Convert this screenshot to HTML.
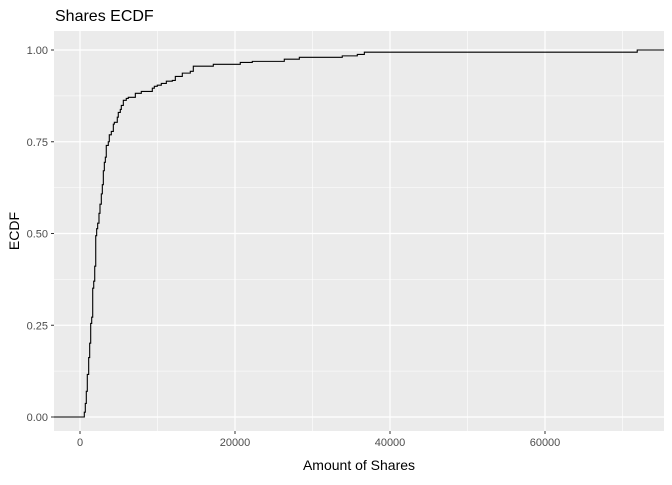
<!DOCTYPE html>
<html><head><meta charset="utf-8"><style>
body{margin:0;background:#fff;font-family:"Liberation Sans",sans-serif}
</style></head><body>
<svg id="chart" width="672" height="480" xmlns="http://www.w3.org/2000/svg" font-family="Liberation Sans, sans-serif">
<rect width="672" height="480" fill="#fff"/>
<text x="55" y="21" font-size="16" fill="#000">Shares ECDF</text>
<rect x="54" y="31" width="610" height="400" fill="#ebebeb"/>
<g id="grid"></g>
<g id="ticks"></g>
<path id="line" fill="none" stroke="#000" stroke-width="1.1"/>
<text x="359" y="470" font-size="14" text-anchor="middle" fill="#000">Amount of Shares</text>
<text transform="translate(19,231) rotate(-90)" font-size="14" text-anchor="middle" fill="#000">ECDF</text>
</svg>
<script>
const shares=[555,684,813,942,1120,1250,1380,1510,1640,1770,1900,2030,2150,2280,2450,2580,2750,2880,3010,3140,3270,3390,3650,3780,4040,4300,4430,4810,4940,5200,5330,5590,5970,6230,7140,7910,9330,9590,9970,10490,11140,11910,12300,13200,14230,14620,17200,20680,22230,26360,28300,33840,35780,36690,71900];
const ecdf=[.013,.037,.070,.116,.162,.201,.255,.272,.351,.370,.411,.494,.513,.528,.555,.580,.608,.633,.671,.694,.708,.740,.750,.769,.778,.798,.803,.817,.830,.838,.849,.863,.868,.871,.882,.887,.896,.901,.904,.909,.915,.917,.928,.937,.942,.956,.961,.966,.969,.975,.980,.984,.988,.994,1.0];
const xTicks=[0,20000,40000,60000];
const xMinor=[10000,30000,50000,70000];
const yTicks=[0,0.25,0.5,0.75,1];
const yTickLabels=["0.00","0.25","0.50","0.75","1.00"];
const yMinor=[0.125,0.375,0.625,0.875];
const X=v=>80+v*155/20000, Y=e=>417-e*367;
const NS="http://www.w3.org/2000/svg";
const grid=document.getElementById('grid'), ticks=document.getElementById('ticks');
function ln(p,x1,y1,x2,y2,c,w,name){const l=document.createElementNS(NS,'line');
l.setAttribute('x1',x1);l.setAttribute('y1',y1);l.setAttribute('x2',x2);l.setAttribute('y2',y2);
l.setAttribute('stroke',c);l.setAttribute('stroke-width',w);


p.appendChild(l);}
function tx(x,y,s,anchor,name){const t=document.createElementNS(NS,'text');
t.setAttribute('x',x);t.setAttribute('y',y);t.setAttribute('font-size','11');t.setAttribute('fill','#4d4d4d');t.setAttribute('text-anchor',anchor);t.textContent=s;


ticks.appendChild(t);}
xMinor.forEach(v=>ln(grid,X(v),31,X(v),431,'#fff',0.6,'x-minor-gridline'));
yMinor.forEach(v=>ln(grid,54,Y(v),664,Y(v),'#fff',0.6,'y-minor-gridline'));
xTicks.forEach(v=>{ln(grid,X(v),31,X(v),431,'#fff',1.2,'x-gridline');ln(ticks,X(v),431,X(v),434,'#333',1,'x-tick');tx(X(v),446,String(v),'middle','x-tick-label');});
yTicks.forEach((v,i)=>{ln(grid,54,Y(v),664,Y(v),'#fff',1.2,'y-gridline');ln(ticks,51,Y(v),54,Y(v),'#333',1,'y-tick');tx(48,Y(v)+4,yTickLabels[i],'end','y-tick-label');});
let d=`M54,${Y(0)} H${X(shares[0])}`;
for(let i=0;i<shares.length;i++){d+=` H${X(shares[i])} V${Y(ecdf[i])}`;}
d+=` H664`;
document.getElementById('line').setAttribute('d',d);
</script>
</body></html>
